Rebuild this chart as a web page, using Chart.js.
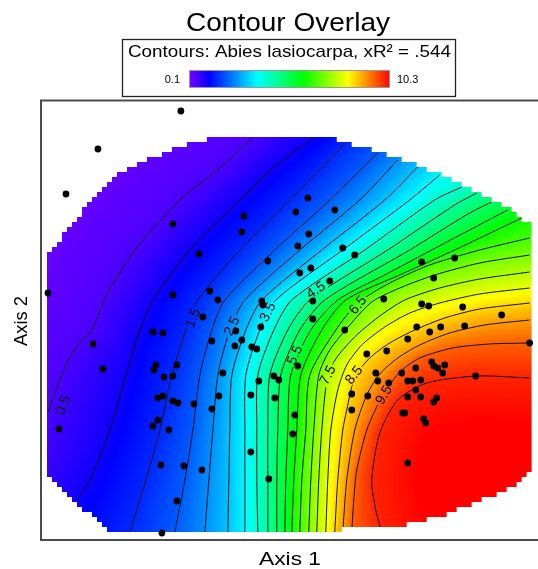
<!DOCTYPE html>
<html><head><meta charset="utf-8">
<script src="https://cdn.jsdelivr.net/npm/chart.js@4.4.1/dist/chart.umd.min.js"></script>
<style>
html,body{margin:0;padding:0;background:#fff;overflow:hidden;width:538px;height:569px}
canvas{display:block}
</style></head><body>
<canvas id="c" width="545" height="569"></canvas>
<script>
// ---------------- data ----------------
const levels = [0.5,1.0,1.5,2.0,2.5,3.0,3.5,4.0,4.5,5.0,5.5,6.0,6.5,7.0,7.5,8.0,8.5,9.0,9.5,10.0];
const c05 = [[42.6,80.8],[38.2,76.4],[32.6,71.8],[27.6,67.8],[18.6,57.8],[12.4,47.8],[10.0,41.8],[7.6,39.4],[5.6,36.4],[3.0,30.4],[1.2,25.4]];
const c10 = [[54.2,80.2],[46.2,74.2],[39.6,67.8],[29.6,57.8],[22.2,47.8],[19.6,41.8],[16.8,32.8],[13.6,21.8],[9.6,11.8],[7.0,7.8]];
const c15 = [[60.6,79.0],[49.6,67.8],[39.6,57.8],[31.2,47.8],[28.8,41.8],[26.0,32.8],[23.6,21.8],[20.8,11.8],[17.6,1.4]];
const c20 = [[67.2,77.2],[57.6,67.8],[46.6,57.8],[36.6,47.8],[34.0,41.8],[31.6,32.8],[30.2,21.8],[28.6,11.8],[26.6,1.4]];
const c25 = [[71.2,75.8],[63.6,67.8],[51.6,57.8],[40.6,47.8],[37.6,41.8],[35.2,32.8],[34.2,21.8],[33.4,11.8],[32.6,1.4]];
const c30 = [[75.2,74.4],[68.6,67.8],[56.0,57.8],[44.0,47.8],[40.8,41.8],[38.0,32.8],[37.6,21.8],[37.4,11.8],[37.2,1.4]];
const c35 = [[79.6,72.8],[73.6,67.8],[60.2,57.8],[46.8,47.8],[43.6,41.8],[40.8,32.8],[40.6,21.8],[40.6,11.8],[40.6,1.4]];
const c40 = [[84.0,70.4],[78.6,67.8],[64.6,57.8],[50.0,47.8],[46.4,41.8],[43.2,32.8],[43.0,21.8],[43.0,11.8],[43.2,1.4]];
const c45 = [[87.0,69.2],[82.6,66.8],[69.2,57.8],[53.6,47.8],[49.2,41.8],[45.6,32.8],[45.2,21.8],[45.2,11.8],[45.2,1.4]];
const c50 = [[90.0,67.4],[85.6,65.2],[73.6,57.8],[56.6,47.8],[51.6,41.8],[47.8,32.8],[47.2,21.8],[47.0,11.8],[47.0,1.4]];
const c55 = [[93.2,65.8],[85.6,61.8],[78.0,57.8],[68.6,52.8],[59.2,47.8],[53.8,41.8],[49.8,32.8],[49.2,21.8],[48.8,11.8],[48.6,1.4]];
const c60 = [[96.0,64.2],[82.6,57.8],[71.6,52.8],[60.8,47.8],[56.0,41.8],[51.8,32.8],[51.0,21.8],[50.4,11.8],[50.0,1.4]];
const c65 = [[97.6,60.2],[87.6,57.8],[77.6,54.8],[69.6,51.2],[63.2,47.2],[58.8,41.8],[53.6,32.8],[52.8,21.8],[52.0,11.8],[51.6,1.4]];
const c70 = [[97.6,56.8],[87.6,55.2],[78.6,52.8],[71.6,50.2],[66.0,47.4],[61.6,42.8],[57.6,37.8],[55.4,32.8],[54.4,21.8],[53.8,11.8],[53.4,1.4]];
const c75 = [[97.6,53.4],[87.6,52.0],[79.6,50.2],[72.6,47.8],[67.6,44.6],[63.0,40.8],[59.2,36.6],[57.2,32.8],[56.0,21.8],[55.4,11.8],[55.0,1.4]];
const c80 = [[97.6,50.2],[87.6,49.0],[79.6,47.2],[73.6,45.2],[68.6,42.4],[64.0,38.8],[61.0,34.8],[59.2,29.8],[57.8,21.8],[57.2,11.8],[56.8,1.4]];
const c85 = [[97.6,47.2],[87.6,46.0],[80.6,44.2],[74.6,41.8],[69.6,39.2],[65.6,36.2],[62.6,32.4],[61.0,25.8],[60.2,21.8],[59.2,11.8],[58.6,1.4]];
const c90 = [[97.6,43.8],[88.6,42.8],[81.6,41.2],[75.6,38.8],[71.2,36.2],[67.6,33.0],[65.0,28.8],[62.6,21.8],[61.0,11.8],[60.2,1.4]];
const c95 = [[97.6,39.2],[89.6,39.0],[82.2,38.2],[75.6,36.2],[71.6,33.4],[69.2,30.2],[67.2,26.8],[65.0,21.8],[63.0,13.8],[62.4,7.8],[62.0,1.4]];
const c100 = [[97.6,32.2],[87.0,32.6],[77.0,31.2],[71.2,27.8],[67.6,21.2],[66.0,11.8],[66.8,5.8],[68.0,1.4]];
const contourLines = [c05,c10,c15,c20,c25,c30,c35,c40,c45,c50,c55,c60,c65,c70,c75,c80,c85,c90,c95,c100];

const labelValues = [0.5,1.5,2.5,3.5,4.5,5.5,6.5,7.5,8.5,9.5];
const labelX = [4.2,30.2,38.0,45.2,54.8,50.6,63.2,57.2,62.4,68.4];
const labelY = [26.8,44.2,42.6,45.4,49.8,36.8,46.8,32.8,32.8,28.8];

const siteX = [27.8,11.2,4.8,26.2,31.4,40.4,40.0,45.2,1.2,26.2,33.6,35.2,44.0,44.2,32.2,53.2,50.8,58.6,53.4,51.2,60.2,62.6,51.6,53.8,57.6,54.2,54.2,43.8,38.8,60.6,76.0,82.6,78.4,68.4,76.0,77.4,84.2,92.0,75.0,77.6,79.8,84.6,73.2,69.0,65.0,97.6,51.2,78.0,78.4,79.2,80.6,80.2,74.8,72.0,66.8,67.2,73.2,74.2,75.8,69.4,86.8,62.0,65.2,73.2,75.8,74.8,78.4,79.0,62.0,72.2,76.4,76.8,50.6,50.2,73.2,34.0,40.0,38.6,42.0,43.0,36.2,43.4,46.4,47.4,35.4,41.8,46.6,34.0,41.8,45.4,32.0,10.2,12.2,3.4,22.2,24.2,22.8,22.4,27.0,24.4,26.2,23.2,24.2,26.2,27.2,30.4,23.2,22.2,25.4,23.8,28.4,27.0,24.0,72.6];
const siteY = [85.6,78.0,69.0,63.0,57.0,64.6,61.4,55.6,49.2,48.8,49.6,47.8,47.6,46.8,44.4,68.2,65.4,65.8,61.0,58.6,58.2,56.8,53.2,54.2,51.6,47.6,44.0,42.4,41.6,41.8,55.4,56.2,52.2,48.0,47.0,46.6,46.4,44.8,42.4,41.4,42.4,42.6,40.0,37.6,37.0,39.2,34.6,35.4,34.6,34.2,34.8,33.2,34.2,33.2,33.2,31.6,31.6,31.6,31.8,31.2,32.6,29.0,28.6,28.4,28.4,29.8,27.4,28.2,25.8,25.2,24.0,23.2,24.8,21.0,15.2,39.6,39.8,38.6,38.4,38.0,33.2,31.6,32.6,31.8,28.6,28.8,28.2,26.0,17.4,12.0,13.8,39.0,34.0,22.0,41.4,41.2,34.8,33.8,34.8,32.4,32.6,28.2,28.6,27.6,27.2,27.0,23.8,22.6,21.8,14.8,14.6,7.6,1.2,25.2];

const hullX = [1.0,1.0,5.2,10.0,15.6,22.2,29.6,37.2,55.0,59.6,64.6,71.2,79.2,84.6,89.2,93.2,97.8,97.8,94.0,88.2,80.6,71.2,60.6,59.6,14.0,10.2,7.0,3.6];
const hullY = [13.2,56.2,62.2,67.8,73.2,76.4,79.2,80.8,80.8,79.8,78.2,76.4,73.2,70.4,68.4,66.2,62.8,13.2,10.4,7.8,4.8,2.4,2.0,1.4,1.4,4.4,7.2,10.4];

const cmapValues = [0.1,1.12,3.57,5.91,8.16,10.3];
const cmapColors = ['#7d00ff','#0000ff','#00ffff','#00ff00','#ffff00','#ff0000'];

const titleText = 'Contour Overlay';
const legendText = 'Contours: Abies lasiocarpa, xR\u00B2 = .544';
const xTitle = 'Axis 1', yTitle = 'Axis 2';

// ---------------- helpers ----------------
const FONT = "'Liberation Sans', Arial, Helvetica, sans-serif";
const cmapRGB = cmapColors.map(h => [parseInt(h.slice(1,3),16),parseInt(h.slice(3,5),16),parseInt(h.slice(5,7),16)]);
function colorAt(v){
  if (v <= cmapValues[0]) return cmapRGB[0];
  for (let i=1;i<cmapValues.length;i++){
    if (v <= cmapValues[i]) {
      const t=(v-cmapValues[i-1])/(cmapValues[i]-cmapValues[i-1]);
      const a=cmapRGB[i-1], b=cmapRGB[i];
      return [a[0]+(b[0]-a[0])*t, a[1]+(b[1]-a[1])*t, a[2]+(b[2]-a[2])*t];
    }
  }
  return cmapRGB[cmapRGB.length-1];
}
function inPoly(x,y,p){
  let c=false;
  for(let i=0,j=p.length-1;i<p.length;j=i++){
    const xi=p[i][0], yi=p[i][1], xj=p[j][0], yj=p[j][1];
    if(((yi>y)!==(yj>y)) && (x < (xj-xi)*(y-yi)/(yj-yi)+xi)) c=!c;
  }
  return c;
}
function distPoly(x,y,l){
  let m=Infinity;
  for(let i=0;i<l.length-1;i++){
    const ax=l[i][0], ay=l[i][1], dx=l[i+1][0]-ax, dy=l[i+1][1]-ay;
    const L=dx*dx+dy*dy;
    let t=L?((x-ax)*dx+(y-ay)*dy)/L:0; t=t<0?0:(t>1?1:t);
    const ex=ax+t*dx-x, ey=ay+t*dy-y, d=ex*ex+ey*ey;
    if(d<m) m=d;
  }
  return Math.sqrt(m);
}
function fitText(ctx, txt, x, y, width){
  const w = ctx.measureText(txt).width;
  ctx.save(); ctx.translate(x,y); ctx.scale(width/w,1); ctx.fillText(txt,0,0); ctx.restore();
}

const geo = {};
const fieldPlugin = {
  id:'field',
  beforeDatasetsDraw(chart){
    const {ctx, chartArea:a, scales:{x,y}} = chart;
    const P = p => [x.getPixelForValue(p[0]), y.getPixelForValue(p[1])];
    const lines = contourLines.map(l => l.map(P));
    const ext = lines.map(l => {
      const n=l.length;
      const e=(p,q)=>{const dx=p[0]-q[0],dy=p[1]-q[1],L=Math.hypot(dx,dy)||1;return [p[0]+dx/L*400,p[1]+dy/L*400];};
      return [e(l[0],l[1]), ...l, e(l[n-1],l[n-2])];
    });
    const polys = ext.map(l => [...l, [a.right+3000, a.bottom+3000]]);
    // mask made of grid cells
    const hull = hullX.map((v,i)=>P([v,hullY[i]]));
    const mask = new Path2D();
    for(let k=0;k<90;k++){
      const y0=1.4+k, y1=y0+1, yc=y.getPixelForValue(y0+0.5);
      let run=null;
      for(let j=0;j<=99;j++){
        const x0=1+j, xc=x.getPixelForValue(x0+0.5);
        const inside = j<99 && inPoly(xc,yc,hull);
        if(inside && run===null) run=x0;
        if(!inside && run!==null){
          const L=x.getPixelForValue(run), R=x.getPixelForValue(x0), T=y.getPixelForValue(y1), B=y.getPixelForValue(y0);
          mask.rect(L,T,R-L,B-T); run=null;
        }
      }
    }
    // field image at half resolution
    const s=2, W=Math.ceil(a.width/s), H=Math.ceil(a.height/s);
    const off=document.createElement('canvas'); off.width=W; off.height=H;
    const octx=off.getContext('2d'); const img=octx.createImageData(W,H);
    const N=levels.length;
    for(let r=0;r<H;r++){
      const py=a.top+(r+0.5)*s;
      for(let c=0;c<W;c++){
        const px=a.left+(c+0.5)*s;
        let cnt=0;
        for(let i=0;i<N;i++) if(inPoly(px,py,polys[i])) cnt++;
        const k=cnt-1; let v;
        if(k<0){ const d=distPoly(px,py,ext[0]); v=levels[0]-0.4*Math.min(1,d/130); }
        else if(k>=N-1){ const d=distPoly(px,py,ext[N-1]); v=levels[N-1]+0.3*Math.min(1,d/45); }
        else { const d1=distPoly(px,py,ext[k]), d2=distPoly(px,py,ext[k+1]); v=levels[k]+(levels[k+1]-levels[k])*d1/(d1+d2); }
        const col=colorAt(v), o=(r*W+c)*4;
        img.data[o]=col[0]; img.data[o+1]=col[1]; img.data[o+2]=col[2]; img.data[o+3]=255;
      }
    }
    octx.putImageData(img,0,0);
    ctx.save(); ctx.clip(mask); ctx.imageSmoothingEnabled=true;
    ctx.drawImage(off,a.left,a.top,W*s,H*s); ctx.restore();
    // label geometry
    ctx.save(); ctx.font='14px '+FONT;
    geo.labels = labelValues.map((lv,i)=>{
      const l=lines[levels.indexOf(lv)];
      const px=x.getPixelForValue(labelX[i]), py=y.getPixelForValue(labelY[i]);
      let best=0,bd=Infinity;
      for(let j=0;j<l.length-1;j++){ const d=distPoly(px,py,[l[j],l[j+1]]); if(d<bd){bd=d;best=j;} }
      let ang=Math.atan2(l[best+1][1]-l[best][1], l[best+1][0]-l[best][0]);
      if(ang>Math.PI/2) ang-=Math.PI; if(ang<=-Math.PI/2) ang+=Math.PI;
      const txt=lv.toFixed(1); const w=ctx.measureText(txt).width;
      return {px,py,ang,txt,w};
    });
    ctx.restore();
    const lineClip = new Path2D(); lineClip.addPath(mask);
    geo.labels.forEach(L=>{
      const c=Math.cos(L.ang), sn=Math.sin(L.ang), hw=L.w/2+2, hh=5;
      const pts=[[-hw,-hh],[hw,-hh],[hw,hh],[-hw,hh]].map(q=>[L.px+q[0]*c-q[1]*sn, L.py+q[0]*sn+q[1]*c]);
      lineClip.moveTo(pts[0][0],pts[0][1]); for(let i=1;i<4;i++) lineClip.lineTo(pts[i][0],pts[i][1]); lineClip.closePath();
    });
    geo.lineClip = lineClip;
  },
  beforeDatasetDraw(chart,args){
    const ctx=chart.ctx;
    if(args.index>0){ ctx.save(); ctx.clip(geo.lineClip,'evenodd'); }
    else {
      ctx.save(); ctx.fillStyle='#000'; ctx.font='14px '+FONT; ctx.textAlign='center'; ctx.textBaseline='middle';
      geo.labels.forEach(L=>{ ctx.save(); ctx.translate(L.px,L.py); ctx.rotate(L.ang); ctx.fillText(L.txt,0,0.5); ctx.restore(); });
      ctx.restore();
    }
  },
  afterDatasetDraw(chart,args){ if(args.index>0) chart.ctx.restore(); },
  afterDraw(chart){
    const {ctx, chartArea:a} = chart;
    ctx.save();
    // frame
    ctx.strokeStyle='#4a4a4a'; ctx.lineWidth=2;
    ctx.strokeRect(a.left-1, a.top-0.5, a.right-a.left+10, a.bottom-a.top+1.5);
    // title
    ctx.fillStyle='#000'; ctx.textAlign='left'; ctx.textBaseline='alphabetic';
    ctx.font='25px '+FONT; fitText(ctx, titleText, 186, 31, 204);
    // legend box
    ctx.strokeStyle='#222'; ctx.lineWidth=1.3; ctx.strokeRect(122.5,39.5,333,57);
    ctx.font='17px '+FONT; fitText(ctx, legendText, 128, 57, 323);
    // colour bar
    const bx0=189,bx1=390,by0=70,by1=88;
    const g=ctx.createLinearGradient(bx0,0,bx1,0);
    cmapValues.forEach((v,i)=>g.addColorStop((v-cmapValues[0])/(cmapValues[cmapValues.length-1]-cmapValues[0]), cmapColors[i]));
    ctx.fillStyle=g; ctx.fillRect(bx0,by0,bx1-bx0,by1-by0);
    ctx.strokeStyle='#999'; ctx.lineWidth=1; ctx.strokeRect(bx0+0.5,by0+0.5,bx1-bx0-1,by1-by0-1);
    ctx.fillStyle='#000'; ctx.font='11px '+FONT; ctx.textBaseline='middle';
    ctx.textAlign='right'; ctx.fillText(cmapValues[0].toString(), 180, 80);
    ctx.textAlign='left'; ctx.fillText(cmapValues[cmapValues.length-1].toString(), 397, 80);
    // axis titles
    ctx.textAlign='left'; ctx.textBaseline='alphabetic'; ctx.font='19px '+FONT;
    fitText(ctx, xTitle, 259, 565, 62);
    ctx.save(); ctx.translate(27,346); ctx.rotate(-Math.PI/2); fitText(ctx, yTitle, 0, 0, 50); ctx.restore();
    ctx.restore();
  }
};

const datasets = [{
  label:'sites', data: siteX.map((v,i)=>({x:v,y:siteY[i]})),
  pointRadius:3.4, pointHoverRadius:3.4, pointBackgroundColor:'#000', pointBorderWidth:0, showLine:false, clip:false
}];
contourLines.forEach((l,i)=>datasets.push({
  label:'contour '+levels[i], data:l.map(p=>({x:p[0],y:p[1]})), showLine:true, pointRadius:0,
  borderColor:'#111', borderWidth:1, fill:false, tension:0.25
}));

new Chart(document.getElementById('c'), {
  type:'scatter',
  data:{datasets},
  options:{
    responsive:false, devicePixelRatio:1, animation:false, events:[],
    layout:{padding:{left:42,top:101,right:3,bottom:30}},
    scales:{
      x:{type:'linear', min:0, max:100, display:false},
      y:{type:'linear', min:0, max:87.6, display:false}
    },
    plugins:{legend:{display:false}, tooltip:{enabled:false}}
  },
  plugins:[fieldPlugin]
});
</script>
</body></html>
